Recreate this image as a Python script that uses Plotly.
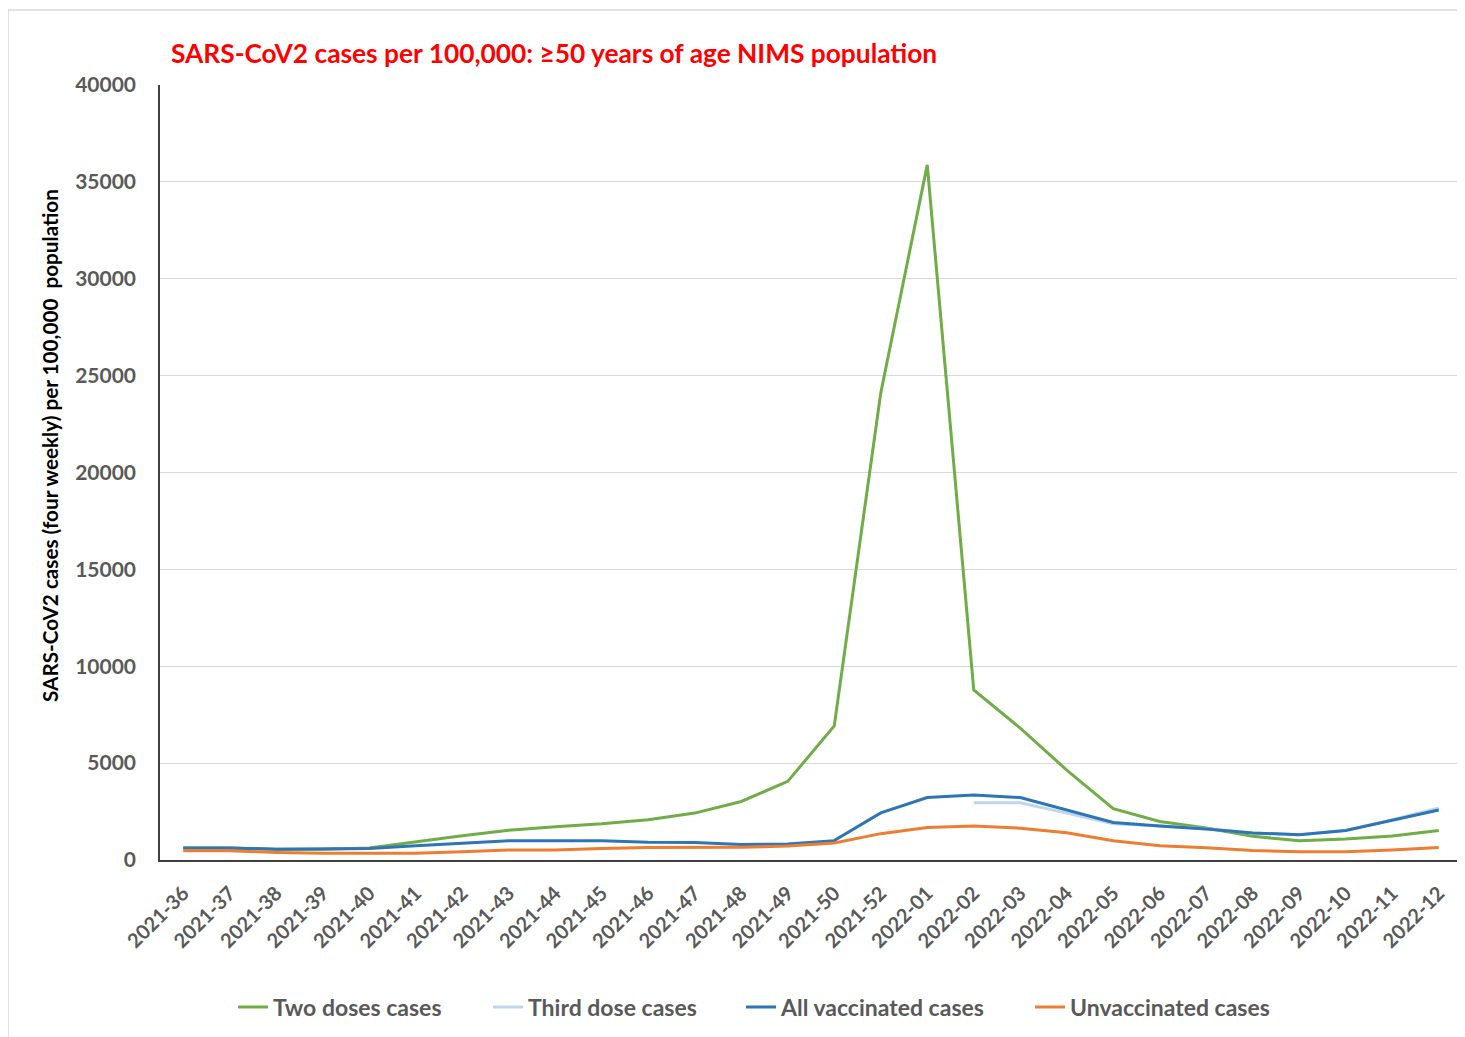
import plotly.graph_objects as go

weeks = ["2021-36", "2021-37", "2021-38", "2021-39", "2021-40", "2021-41", "2021-42",
         "2021-43", "2021-44", "2021-45", "2021-46", "2021-47", "2021-48", "2021-49",
         "2021-50", "2021-52", "2022-01", "2022-02", "2022-03", "2022-04", "2022-05",
         "2022-06", "2022-07", "2022-08", "2022-09", "2022-10", "2022-11", "2022-12"]

two_doses = [620, 620, 560, 560, 620, 950, 1250, 1530, 1720, 1870, 2080, 2420, 3020, 4060,
             6920, 24100, 35880, 8780, 6810, 4640, 2650, 1990, 1650, 1220, 1000, 1080, 1240, 1520]

third_dose = [None] * 17 + [2950, 2950, 2420, 1870, 1760, 1610, 1400, 1300, 1530, 2080, 2680]

all_vaccinated = [620, 620, 560, 560, 590, 740, 860, 990, 990, 1000, 920, 900, 800, 830,
                  1000, 2430, 3220, 3360, 3220, 2590, 1940, 1760, 1600, 1400, 1300, 1520, 2060, 2580]

unvaccinated = [480, 480, 390, 350, 350, 350, 430, 520, 520, 600, 640, 650, 660, 720,
                880, 1360, 1680, 1760, 1640, 1410, 990, 730, 630, 490, 430, 430, 510, 640]

series_names = ["Two doses cases", "Third dose cases", "All vaccinated cases", "Unvaccinated cases"]
series_colors = ["#70AD47", "#BDD7EE", "#2E75B6", "#ED7D31"]

FONT = "Lato"
GREY = "#595959"

# page offset (body margin of the html page)
OFF = 8
W, H = 1465 - OFF, 1037 - OFF
PL, PR, PT, PB = 160, 1462, 85, 860   # plot area in page pixels
L, T = PL - OFF, PT - OFF
R = W - (PR - OFF)
B = H - (PB - OFF)
pw, ph = PR - PL, PB - PT


def px(x):
    return (x - PL) / pw


def py(y):
    return (PB - y) / ph


legend_keys = ["legend", "legend2", "legend3", "legend4"]
legend_text_starts = [273, 528, 781, 1070]

fig = go.Figure()
for name, vals, color, lk in zip(series_names,
                                 [two_doses, third_dose, all_vaccinated, unvaccinated],
                                 series_colors, legend_keys):
    fig.add_trace(go.Scatter(x=weeks, y=vals, mode="lines", name=name, legend=lk,
                             line=dict(color=color, width=3)))

legend_font = dict(family=FONT, size=23, color=GREY, weight="bold")
legends = {}
for lk, xs in zip(legend_keys, legend_text_starts):
    legends[lk] = dict(orientation="h", x=px(xs - 40), xanchor="left", y=py(1007),
                       yanchor="middle", font=legend_font, itemwidth=30,
                       bgcolor="rgba(0,0,0,0)")

fig.update_layout(
    width=W, height=H,
    margin=dict(l=L, r=R, t=T, b=B),
    paper_bgcolor="white", plot_bgcolor="white",
    font=dict(family=FONT, color=GREY),
    showlegend=True,
    annotations=[
        dict(text="SARS-CoV2 cases per 100,000: \u226550 years of age NIMS population",
             x=px(169), y=py(53), xref="paper", yref="paper", xanchor="left", yanchor="middle",
             showarrow=False, font=dict(family=FONT, size=26.3, color="#FF0000", weight="bold")),
        dict(text="SARS-CoV2 cases (four weekly) per 100,000  population",
             x=px(50), y=py(446), xref="paper", yref="paper", xanchor="center", yanchor="middle",
             textangle=-90, showarrow=False,
             font=dict(family=FONT, size=20.7, color="#000000", weight="bold")),
    ],
    shapes=[
        dict(type="line", xref="paper", yref="paper", x0=px(8), x1=px(1470), y0=py(10), y1=py(10),
             line=dict(color="#D9D9D9", width=1.5), layer="below"),
        dict(type="line", xref="paper", yref="paper", x0=px(8), x1=px(8), y0=py(10), y1=py(1045),
             line=dict(color="#D9D9D9", width=1.5), layer="below"),
    ],
    **legends,
)

fig.update_xaxes(
    type="category", range=[-0.5, len(weeks) - 0.5],
    tickangle=-45, showgrid=False, showline=True, linecolor="#404040", linewidth=1.5,
    ticks="", tickfont=dict(family=FONT, size=20, color=GREY, weight="bold"),
    ticklabelstandoff=12,
)
fig.update_yaxes(
    range=[0, 40000], dtick=5000, tickformat="d",
    showgrid=True, gridcolor="#D9D9D9", gridwidth=1,
    showline=True, linecolor="#404040", linewidth=1.5, zeroline=False,
    ticks="", tickfont=dict(family=FONT, size=21, color=GREY, weight="bold"),
    ticklabelstandoff=18,
)

fig.write_html("out.html")
